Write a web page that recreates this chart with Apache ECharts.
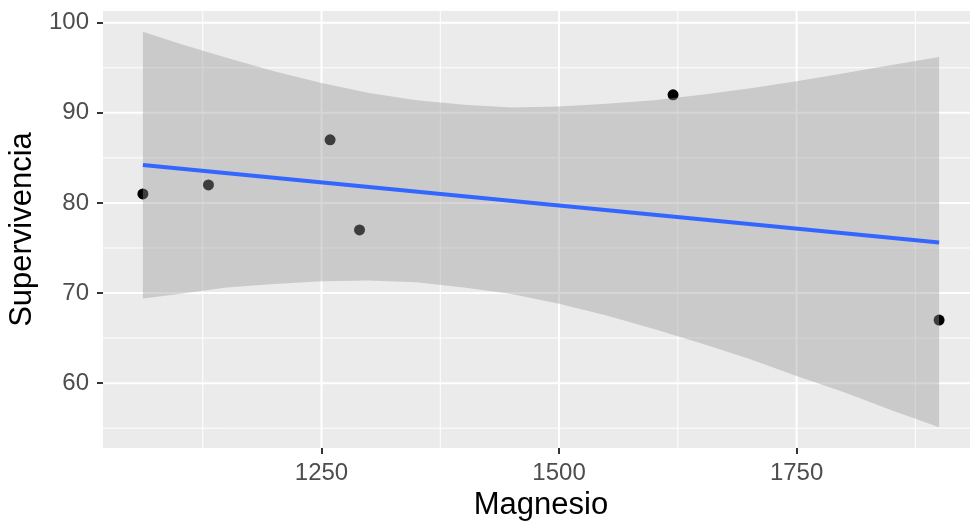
<!DOCTYPE html>
<html>
<head>
<meta charset="utf-8">
<script src="https://cdn.jsdelivr.net/npm/echarts@6/dist/echarts.min.js"></script>
<style>
  html, body { margin: 0; padding: 0; background: #fff; }
  #chart { width: 970px; height: 527px; }
</style>
</head>
<body>
<div id="chart"></div>
<script>
// observed points
const magnesio = [1062, 1131, 1259, 1290, 1620, 1900];
const supervivencia = [81, 82, 87, 77, 92, 67];

// fitted line (ends)
const fitX = [1062, 1900];
const fitY = [84.2, 75.6];

// confidence band, read along the x axis
const bandX = [1062, 1100, 1150, 1200, 1250, 1300, 1350, 1400, 1450, 1500, 1550, 1600, 1650, 1700, 1750, 1800, 1850, 1900];
const bandLow = [69.4, 69.9, 70.6, 71.0, 71.3, 71.4, 71.2, 70.6, 69.9, 68.8, 67.5, 66.0, 64.4, 62.7, 60.8, 59.0, 57.0, 55.1];
const bandHigh = [99.0, 97.7, 96.1, 94.6, 93.3, 92.2, 91.4, 90.9, 90.6, 90.7, 91.0, 91.4, 92.0, 92.7, 93.5, 94.4, 95.3, 96.2];

const xTicks = [1250, 1500, 1750];
const xMinor = [1125, 1375, 1625, 1875];
const yTicks = [60, 70, 80, 90, 100];
const yMinor = [55, 65, 75, 85, 95];

const xMin = 1020, xMax = 1942;
const yMin = 52.8, yMax = 101.3;

const font = 'Liberation Sans, Arial, sans-serif';

function renderGrid(params, api) {
  const children = [];
  const addV = (v, w) => {
    const a = api.coord([v, yMin]);
    const b = api.coord([v, yMax]);
    children.push({ type: 'line', shape: { x1: a[0], y1: a[1], x2: b[0], y2: b[1] },
      style: { stroke: '#ffffff', lineWidth: w } });
  };
  const addH = (v, w) => {
    const a = api.coord([xMin, v]);
    const b = api.coord([xMax, v]);
    children.push({ type: 'line', shape: { x1: a[0], y1: a[1], x2: b[0], y2: b[1] },
      style: { stroke: '#ffffff', lineWidth: w } });
  };
  xMinor.forEach(v => addV(v, 1));
  yMinor.forEach(v => addH(v, 1));
  xTicks.forEach(v => addV(v, 2));
  yTicks.forEach(v => addH(v, 2));
  return { type: 'group', children };
}

function renderBand(params, api) {
  const pts = [];
  for (let i = 0; i < bandX.length; i++) pts.push(api.coord([bandX[i], bandHigh[i]]));
  for (let i = bandX.length - 1; i >= 0; i--) pts.push(api.coord([bandX[i], bandLow[i]]));
  return { type: 'polygon', shape: { points: pts }, style: { fill: 'rgba(153,153,153,0.4)' } };
}

const chart = echarts.init(document.getElementById('chart'), null, { renderer: 'canvas' });

chart.setOption({
  animation: false,
  backgroundColor: '#ffffff',
  grid: {
    left: 103, top: 11, width: 876, height: 437,
    outerBoundsMode: 'none', containLabel: false,
    show: true, backgroundColor: '#EBEBEB', borderWidth: 0
  },
  xAxis: {
    type: 'value', min: xMin, max: xMax,
    name: 'Magnesio', nameLocation: 'middle', nameGap: 42,
    nameTextStyle: { fontFamily: font, fontSize: 31, color: '#000' },
    axisLine: { show: false },
    axisTick: { show: true, customValues: xTicks, length: 6, lineStyle: { color: '#333', width: 2 } },
    axisLabel: {
      customValues: xTicks, fontFamily: font, fontSize: 24, color: '#4D4D4D', margin: 13,
      formatter: v => String(v)
    },
    splitLine: { show: false }
  },
  yAxis: {
    type: 'value', min: yMin, max: yMax,
    name: 'Supervivencia', nameLocation: 'middle', nameGap: 64,
    nameTextStyle: { fontFamily: font, fontSize: 31, color: '#000' },
    axisLine: { show: false },
    axisTick: { show: true, customValues: yTicks, length: 6, lineStyle: { color: '#333', width: 2 } },
    axisLabel: {
      customValues: yTicks, fontFamily: font, fontSize: 24, color: '#4D4D4D', margin: 14,
      formatter: v => String(v)
    },
    splitLine: { show: false }
  },
  series: [
    {
      type: 'custom', z: 1, silent: true,
      data: [[xMin, yMin]],
      renderItem: renderGrid
    },
    {
      type: 'scatter', z: 2,
      data: magnesio.map((x, i) => [x, supervivencia[i]]),
      symbolSize: 11,
      itemStyle: { color: '#000000', opacity: 1 }
    },
    {
      type: 'custom', z: 3, silent: true,
      data: [[bandX[0], bandLow[0]]],
      renderItem: renderBand
    },
    {
      type: 'line', z: 4,
      data: fitX.map((x, i) => [x, fitY[i]]),
      symbol: 'none',
      lineStyle: { color: '#3366FF', width: 4 }
    }
  ]
});
</script>
</body>
</html>
